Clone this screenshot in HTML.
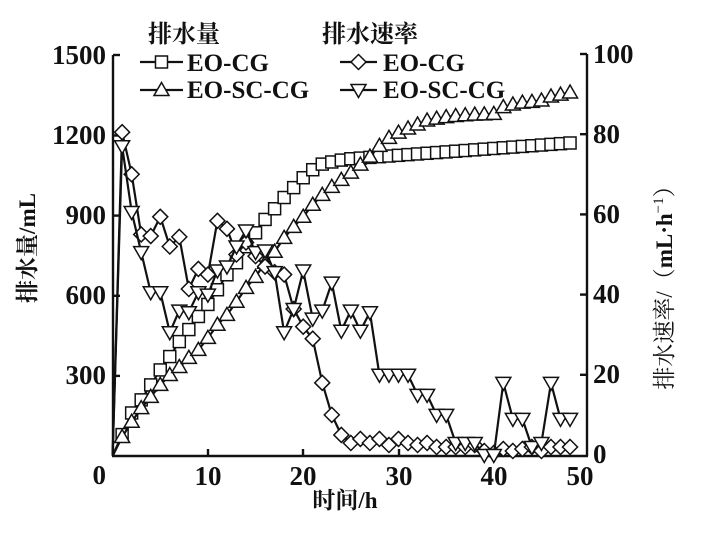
<!DOCTYPE html>
<html><head><meta charset="utf-8"><style>
html,body{margin:0;padding:0;background:#fff;}
svg{display:block;}
text{font-family:"Liberation Serif","Noto Serif CJK SC",serif;fill:#111;}
</style></head><body>
<svg id="s" width="725" height="535" viewBox="0 0 725 535" xmlns="http://www.w3.org/2000/svg">
<g stroke="#111" stroke-width="2.4" fill="none">
<line x1="113" y1="55" x2="113" y2="456"/>
<line x1="112" y1="456" x2="588" y2="456"/>
<line x1="587" y1="54" x2="587" y2="456"/>
<line x1="113" y1="55" x2="120" y2="55"/>
<line x1="113" y1="135.5" x2="120" y2="135.5"/>
<line x1="113" y1="215.6" x2="120" y2="215.6"/>
<line x1="113" y1="295.8" x2="120" y2="295.8"/>
<line x1="113" y1="375.9" x2="120" y2="375.9"/>
<line x1="580" y1="54" x2="587" y2="54"/>
<line x1="580" y1="134.2" x2="587" y2="134.2"/>
<line x1="580" y1="214.4" x2="587" y2="214.4"/>
<line x1="580" y1="294.6" x2="587" y2="294.6"/>
<line x1="580" y1="374.8" x2="587" y2="374.8"/>
<line x1="208" y1="456" x2="208" y2="449"/>
<line x1="303" y1="456" x2="303" y2="449"/>
<line x1="399" y1="456" x2="399" y2="449"/>
<line x1="494" y1="456" x2="494" y2="449"/>
</g>
<g font-size="27" font-weight="bold" text-anchor="end">
<text x="106" y="64">1500</text><text x="106" y="144">1200</text><text x="106" y="224">900</text>
<text x="106" y="304">600</text><text x="106" y="384">300</text><text x="106" y="484">0</text>
</g>
<g font-size="27" font-weight="bold" text-anchor="start">
<text x="593" y="63">100</text><text x="593" y="143">80</text><text x="593" y="223">60</text>
<text x="593" y="303">40</text><text x="593" y="383">20</text><text x="593" y="463">0</text>
</g>
<g font-size="27" font-weight="bold" text-anchor="middle">
<text x="208" y="485">10</text><text x="303" y="485">20</text><text x="399" y="485">30</text><text x="494" y="485">40</text><text x="580" y="485">50</text>
</g>
<text x="345" y="508" font-size="23" font-weight="bold" text-anchor="middle">时间/h</text>
<text transform="translate(35,248) rotate(-90)" font-size="23" font-weight="bold" text-anchor="middle">排水量/mL</text>
<text transform="translate(672,282) rotate(-90)" font-size="23" text-anchor="middle">排水速率/（<tspan font-weight="bold">mL·h</tspan><tspan dy="-9" font-size="15">−1</tspan><tspan dy="9">）</tspan></text>
<text x="148" y="42" font-size="24" font-weight="bold">排水量</text>
<text x="322" y="42" font-size="24" font-weight="bold">排水速率</text>
<g font-size="25" font-weight="bold">
<text x="187" y="71">EO-CG</text><text x="187" y="98">EO-SC-CG</text>
<text x="383" y="71">EO-CG</text><text x="383" y="98">EO-SC-CG</text>
</g>
<g id="plot"></g>
</svg>
<script>
var X=function(t){return 112.6+9.53*t;};
var YL=function(v){return 456-0.2673*v;};
var YR=function(v){return 455-4.01*v;};
var sq=[0,80,161,210,266,322,372,428,473,522,567,622,678,723,783,835,885,925,967,1004,1041,1071,1092,1100,1107,1112];
for(var t=26;t<=48;t++)sq.push(1112+(t-25)*59/23);
var tr=[0,71,128,179,221,266,303,333,367,397,442,491,528,577,629,670,723,764,816,857,895,940,977,1007,1033,1060,1090,1120,1160,1190,1210,1225,1240,1255,1262,1268,1272,1275,1277,1278,1280,1305,1315,1322,1325,1330,1345,1352,1360];
var di=[0,80.5,70,55,54.6,59.4,52,54.4,41.4,46.4,45,58.4,56.4,50,53,49.6,47,45.6,45,36.4,32,29,18,10,5,3,4,3,4,2.5,4,3,2.5,3,2,2,2,2,2.5,1,0.5,1.5,1,1.5,2,1,2,2,2];
var it=[0,77,60.6,50.6,40.6,40.6,30.6,36,35.6,40.6,40,46,47,52,56,50.6,51,45.6,30.6,36.4,46,34,36,43,31,36,31,35.6,20,20,20,20,15,15,10,10,3,3,3,0,0,18,9,9,2,3,18,9,9];
var out='';
function series(arr,yf,mk){
 var p=[];for(var i=0;i<arr.length;i++)p.push(X(i).toFixed(1)+','+yf(arr[i]).toFixed(1));
 out+='<polyline points="'+p.join(' ')+'" fill="none" stroke="#111" stroke-width="2.2"/>';
 for(var i=1;i<arr.length;i++)out+=marker(X(i),yf(arr[i]),mk);
}
function marker(x,y,mk){
 var s='fill="#fff" stroke="#111" stroke-width="1.5"';
 if(mk=='s')return '<rect x="'+(x-6)+'" y="'+(y-6)+'" width="12" height="12" '+s+'/>';
 if(mk=='d')return '<polygon points="'+x+','+(y-7.5)+' '+(x+7.5)+','+y+' '+x+','+(y+7.5)+' '+(x-7.5)+','+y+'" '+s+'/>';
 if(mk=='t')return '<polygon points="'+x+','+(y-7.5)+' '+(x+7.5)+','+(y+5.5)+' '+(x-7.5)+','+(y+5.5)+'" '+s+'/>';
 return '<polygon points="'+x+','+(y+7.5)+' '+(x+7.5)+','+(y-5.5)+' '+(x-7.5)+','+(y-5.5)+'" '+s+'/>';
}
series(sq,YL,'s');series(tr,YL,'t');series(di,YR,'d');series(it,YR,'v');
function leg(x1,x2,y,mk){out+='<line x1="'+x1+'" y1="'+y+'" x2="'+x2+'" y2="'+y+'" stroke="#111" stroke-width="2.2"/>'+marker((x1+x2)/2,y,mk);}
leg(140,183,62,'s');leg(140,183,90,'t');leg(340,377,62,'d');leg(340,377,90,'v');
document.getElementById('plot').innerHTML=out;
</script>
</body></html>
